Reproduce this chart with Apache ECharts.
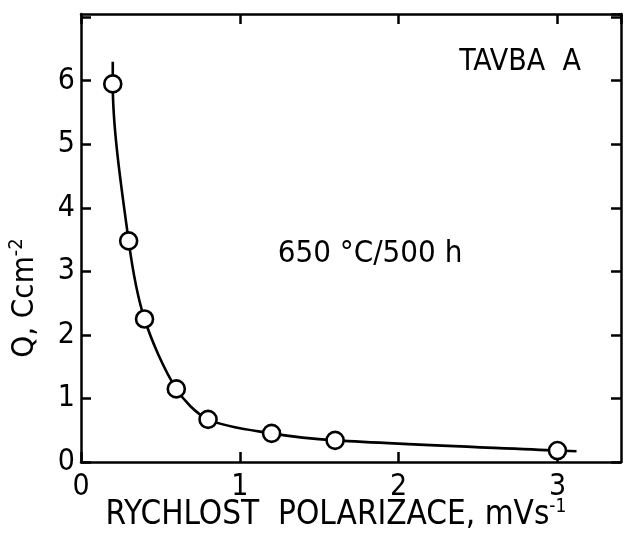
<!DOCTYPE html>
<html>
<head>
<meta charset="utf-8">
<script src="https://cdn.jsdelivr.net/npm/echarts@6/dist/echarts.min.js"></script>
<style>html,body{margin:0;padding:0;background:#fff}#c{width:624px;height:541px}</style>
</head>
<body>
<div id="c"></div>
<script>
// Data
var rateValues = [0.2, 0.3, 0.4, 0.6, 0.8, 1.2, 1.6, 3.0];
var chargeValues = [5.95, 3.48, 2.25, 1.15, 0.67, 0.45, 0.34, 0.18];
// fitted curve extends a little beyond the measured points
var curveStart = [0.2, 6.3];
var curveEnd = [3.12, 0.17];
var xTicks = [0, 1, 2, 3];
var yTicks = [0, 1, 2, 3, 4, 5, 6];
var xAxisTitle = 'RYCHLOST  POLARIZACE, mVs';
var xAxisSup = '-1';
var yAxisTitle = 'Q, Ccm';
var yAxisSup = '-2';
var label1 = 'TAVBA  A';
var label2 = '650 °C/500 h';

var points = rateValues.map(function (x, i) { return [x, chargeValues[i]]; });
var curve = [curveStart].concat(points).concat([curveEnd]);

var FONT = '"DejaVu Sans Condensed", "DejaVu Sans", sans-serif';
var chart = echarts.init(document.getElementById('c'), null, {renderer: 'canvas'});
var lineStyle = {color: '#000', width: 2.5};
function axisCommon(extra) {
  var base = {
    type: 'value',
    axisLine: {show: true, onZero: false, lineStyle: lineStyle},
    axisTick: {show: true, inside: true, length: 10, lineStyle: lineStyle},
    splitLine: {show: false}
  };
  for (var k in extra) base[k] = extra[k];
  return base;
}
chart.setOption({
  animation: false,
  backgroundColor: '#fff',
  grid: {left: 81, right: 3, top: 14, bottom: 79},
  xAxis: [axisCommon({
    min: 0, max: 3.4, interval: 1, position: 'bottom',
    axisLabel: {showMaxLabel: false, color: '#000', fontSize: 30, fontFamily: FONT, margin: 10,
      formatter: function (v) { return xTicks.indexOf(v) >= 0 ? String(v) : ''; }}
  }), axisCommon({
    min: 0, max: 3.4, interval: 1, position: 'top',
    axisLabel: {show: false}
  })],
  yAxis: [axisCommon({
    min: 0, max: 7.05, interval: 1, position: 'left',
    axisLabel: {showMaxLabel: false, color: '#000', fontSize: 30, fontFamily: FONT, margin: 6,
      formatter: function (v) { return yTicks.indexOf(v) >= 0 ? String(v) : ''; }}
  }), axisCommon({
    min: 0, max: 7.05, interval: 1, position: 'right',
    axisLabel: {show: false}
  })],
  graphic: [
    {type: 'text', x: 520, y: 62, style: {text: label1, fontSize: 30, fontFamily: FONT, fill: '#000', align: 'center', verticalAlign: 'middle'}},
    {type: 'text', x: 370, y: 254, style: {text: label2, fontSize: 31, fontFamily: FONT, fill: '#000', align: 'center', verticalAlign: 'middle'}},
    {type: 'text', x: 336, y: 515, style: {
      text: xAxisTitle + '{sup|' + xAxisSup + '}', fontSize: 33, fontFamily: FONT, fill: '#000',
      align: 'center', verticalAlign: 'middle',
      rich: {sup: {fontSize: 19, fontFamily: FONT, fill: '#000', padding: [0, 0, 15, 0]}}}},
    {type: 'text', x: 25, y: 298, rotation: Math.PI / 2, style: {
      text: yAxisTitle + '{sup|' + yAxisSup + '}', fontSize: 31, fontFamily: FONT, fill: '#000',
      align: 'center', verticalAlign: 'middle',
      rich: {sup: {fontSize: 20, fontFamily: FONT, fill: '#000', padding: [0, 0, 16, 0]}}}}
  ],
  series: [{
    type: 'line', data: curve, smooth: 0.3, showSymbol: false,
    lineStyle: {color: '#000', width: 2.6}, z: 2
  }, {
    type: 'scatter', data: points, symbol: 'circle', symbolSize: 17,
    itemStyle: {color: '#fff', borderColor: '#000', borderWidth: 2.6, opacity: 1}, z: 3
  }]
});
</script>
</body>
</html>
